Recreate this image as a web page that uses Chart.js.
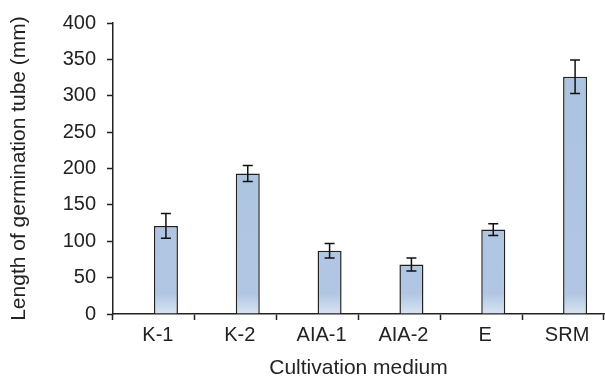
<!DOCTYPE html>
<html lang="en">
<head>
    <meta charset="UTF-8">
    <title>Germination tube length</title>
    <script src="https://cdn.jsdelivr.net/npm/chart.js@4.4.0/dist/chart.umd.min.js"></script>
    <style>
        body { margin: 0; background: #fff; }
    </style>
</head>
<body>
    <canvas id="tubeChart" width="605" height="379"></canvas>
    <script>
        const media = ["K-1", "K-2", "AIA-1", "AIA-2", "E", "SRM"]
        const tubeLength = [121, 193, 87, 68, 116, 326]
        const tubeError = [17, 11, 10, 9, 8, 23]
        const yTicks = [0, 50, 100, 150, 200, 250, 300, 350, 400]

        const textColor = '#222'
        const axisColor = '#222'
        const fontFamily = '"Liberation Sans", Arial, sans-serif'

        // error bars on top of the visible dataset
        const errorBars = {
            id: 'errorBars',
            afterDatasetsDraw(chart) {
                const meta = chart.getDatasetMeta(1)
                const y = chart.scales.y
                const ctx = chart.ctx
                ctx.save()
                ctx.strokeStyle = '#111'
                ctx.lineWidth = 1.5
                meta.data.forEach((bar, i) => {
                    const top = y.getPixelForValue(tubeLength[i] + tubeError[i])
                    const bottom = y.getPixelForValue(tubeLength[i] - tubeError[i])
                    ctx.beginPath()
                    ctx.moveTo(bar.x, top)
                    ctx.lineTo(bar.x, bottom)
                    ctx.moveTo(bar.x - 5, top)
                    ctx.lineTo(bar.x + 5, top)
                    ctx.moveTo(bar.x - 5, bottom)
                    ctx.lineTo(bar.x + 5, bottom)
                    ctx.stroke()
                })
                ctx.restore()
            }
        }

        function barFill(context) {
            const area = context.chart.chartArea
            if (!area) return '#adc6e1'
            const g = context.chart.ctx.createLinearGradient(0, area.top, 0, area.bottom)
            g.addColorStop(0, '#a9c3df')
            g.addColorStop(0.93, '#b1c6e3')
            g.addColorStop(1, '#d8e4f2')
            return g
        }

        new Chart(document.getElementById('tubeChart').getContext('2d'), {
            type: 'bar',
            data: {
                labels: media,
                datasets: [
                    { label: '', data: media.map(() => null) },
                    {
                        label: 'Length',
                        data: tubeLength,
                        backgroundColor: barFill,
                        borderColor: axisColor,
                        borderWidth: 1.5
                    }
                ]
            },
            options: {
                responsive: false,
                animation: false,
                categoryPercentage: 0.587,
                barPercentage: 1,
                layout: { padding: { left: 0, right: 1, top: 19, bottom: 0 } },
                plugins: {
                    legend: { display: false },
                    tooltip: { enabled: false }
                },
                scales: {
                    x: {
                        afterFit(scale) { scale.height = 65 },
                        grid: {
                            offset: true,
                            drawOnChartArea: false,
                            tickLength: 6,
                            tickWidth: 1.5,
                            tickColor: axisColor
                        },
                        border: { color: axisColor, width: 1.5 },
                        ticks: {
                            color: textColor,
                            padding: 3,
                            labelOffset: 4,
                            font: { family: fontFamily, size: 20 }
                        },
                        title: {
                            display: true,
                            text: 'Cultivation medium',
                            color: textColor,
                            padding: { top: 0, bottom: 0 },
                            font: { family: fontFamily, size: 21, lineHeight: 1 }
                        }
                    },
                    y: {
                        min: 0,
                        max: 400,
                        afterFit(scale) { scale.width = 113 },
                        afterBuildTicks(scale) {
                            scale.ticks = yTicks.map(v => ({ value: v }))
                        },
                        grid: {
                            drawOnChartArea: false,
                            tickLength: 6,
                            tickWidth: 1.5,
                            tickColor: axisColor
                        },
                        border: { color: axisColor, width: 1.5 },
                        ticks: {
                            color: textColor,
                            padding: 11,
                            font: { family: fontFamily, size: 20 }
                        },
                        title: {
                            display: true,
                            text: 'Length of germination tube (mm)',
                            color: textColor,
                            padding: { top: 9, bottom: 0 },
                            font: { family: fontFamily, size: 21, lineHeight: 1 }
                        }
                    }
                }
            },
            plugins: [errorBars]
        })
    </script>
</body>
</html>
